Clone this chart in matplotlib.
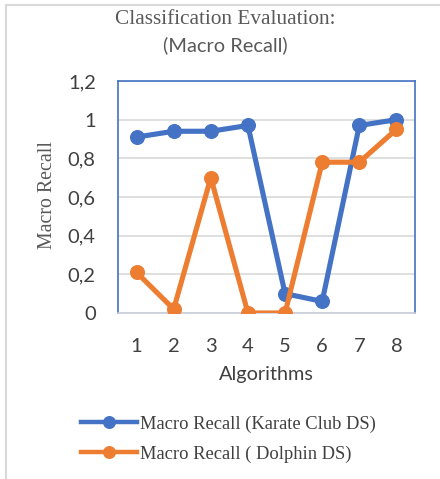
import matplotlib.pyplot as plt
from matplotlib.lines import Line2D
from matplotlib.ticker import FuncFormatter

algorithms = [1, 2, 3, 4, 5, 6, 7, 8]
karate = [0.91, 0.94, 0.94, 0.97, 0.10, 0.06, 0.97, 1.00]
dolphin = [0.21, 0.02, 0.70, 0.00, 0.00, 0.78, 0.78, 0.95]
y_ticks = [0, 0.2, 0.4, 0.6, 0.8, 1.0, 1.2]

blue = "#4472C4"
orange = "#ED7D31"
serif = "Liberation Serif"
sans = "Lato"

W, H = 440, 479
fig = plt.figure(figsize=(W / 100, H / 100), dpi=100)
ax = fig.add_axes([118 / W, 1 - 313 / H, (415 - 118) / W, (313 - 81) / H])

ax.plot(algorithms, karate, color=blue, lw=3.7, marker="o", ms=9.8,
        label="Macro Recall (Karate Club DS)", zorder=3)
ax.plot(algorithms, dolphin, color=orange, lw=3.7, marker="o", ms=9.8,
        label="Macro Recall ( Dolphin DS)", zorder=3)

ax.set_xlim(0.5, 8.5)
ax.set_ylim(0, 1.2)
ax.set_xticks(algorithms)
ax.set_yticks(y_ticks)
ax.yaxis.set_major_formatter(FuncFormatter(lambda v, p: f"{v:g}".replace(".", ",")))
ax.tick_params(length=0, labelsize=14.5, labelcolor="#404040")
ax.tick_params(axis="y", pad=16)
ax.tick_params(axis="x", pad=18)
for lab in ax.get_xticklabels() + ax.get_yticklabels():
    lab.set_family(sans)
ax.grid(axis="y", color="#D9D9D9", lw=1.2)
ax.set_axisbelow(True)
for s in ["left", "right", "top"]:
    ax.spines[s].set_color(blue)
    ax.spines[s].set_linewidth(1.2)
ax.spines["bottom"].set_color("#C8CEDA")
ax.spines["bottom"].set_linewidth(1.2)

ax.set_xlabel("Algorithms", family=sans, fontsize=14.3, color="#404040", labelpad=8)
fig.text(47 / W, 1 - 195 / H, "Macro Recall", family=serif, fontsize=14.3,
         color="#595959", rotation=90, ha="center", va="center")

fig.text(225 / W, 1 - 19 / H, "Classification Evaluation:", family=serif,
         fontsize=15.3, color="#595959", ha="center", va="center")
fig.text(225 / W, 1 - 45 / H, "(Macro Recall)", family=sans,
         fontsize=14.4, color="#595959", ha="center", va="center")

leg = fig.legend(loc="upper left", bbox_to_anchor=(74 / W, 1 - 408 / H),
                 frameon=False, prop={"family": serif, "size": 13.3},
                 handlelength=3.0, handletextpad=0.2, labelspacing=0.7,
                 markerscale=0.85, borderaxespad=0)
for t in leg.get_texts():
    t.set_color("#404040")
for h in leg.legend_handles:
    h.set_linewidth(3.2)

# chart frame edges
fig.add_artist(Line2D([6 / W, 6 / W], [0, 1 - 5 / H], color="#D9D9D9", lw=1.5))
fig.add_artist(Line2D([6 / W, 1], [1 - 5 / H, 1 - 5 / H], color="#D9D9D9", lw=1.5))

fig.savefig("out.png", dpi=100)
